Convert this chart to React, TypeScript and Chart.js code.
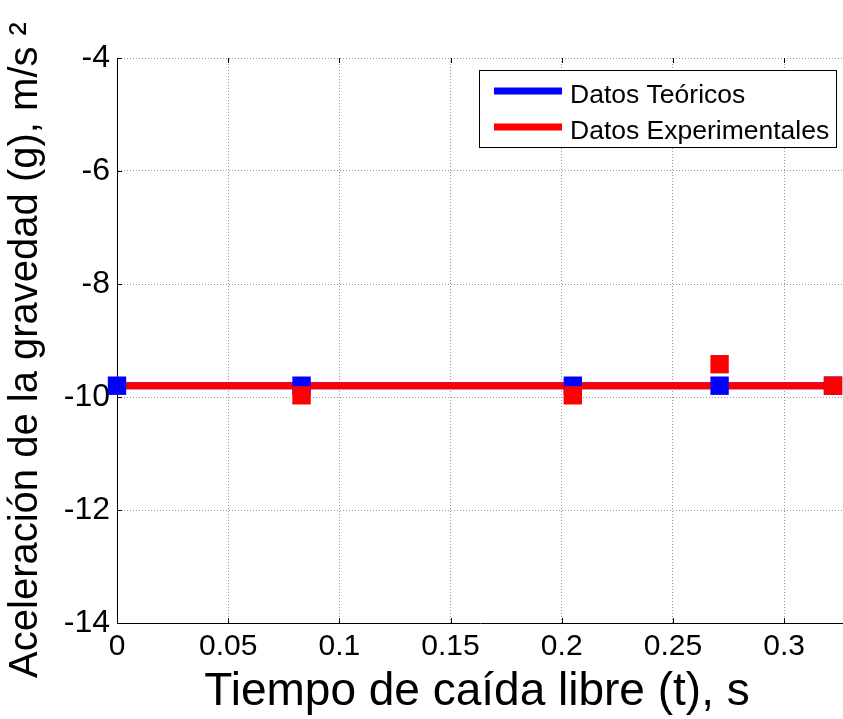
import { useEffect, useRef } from 'react';
import { Chart, registerables } from 'chart.js';

Chart.register(...registerables);

// Tiempos de caída (s) y aceleración (m/s²)
const tiempos = [0, 0.083, 0.205, 0.271, 0.322];
const gTeorico = [-9.8, -9.8, -9.8, -9.8, -9.8];
const gPromedioExp = [-9.8, -9.8, -9.8, -9.8, -9.8];
const tiemposExp = [0.083, 0.205, 0.271, 0.322];
const gExperimental = [-9.97, -9.97, -9.42, -9.8];

const xTicks = [0, 0.05, 0.1, 0.15, 0.2, 0.25, 0.3];
const yTicks = [-14, -12, -10, -8, -6, -4];
const leyenda = ['Datos Teóricos', 'Datos Experimentales'];

const AZUL = '#0000ff';
const ROJO = '#ff0000';
const FUENTE = '"Liberation Sans", Arial, Helvetica, sans-serif';

const decoracion = {
  id: 'decoracion',
  afterDraw(chart: any) {
    const { ctx, chartArea } = chart;
    const xs = chart.scales.x;
    const ys = chart.scales.y;
    ctx.save();

    // marcas de graduación hacia adentro
    ctx.strokeStyle = '#000';
    ctx.lineWidth = 1;
    ctx.beginPath();
    xTicks.forEach((v) => {
      const px = Math.round(xs.getPixelForValue(v)) + 0.5;
      ctx.moveTo(px, chartArea.bottom);
      ctx.lineTo(px, chartArea.bottom - 5);
      ctx.moveTo(px, chartArea.top);
      ctx.lineTo(px, chartArea.top + 5);
    });
    yTicks.forEach((v) => {
      const py = Math.round(ys.getPixelForValue(v)) + 0.5;
      ctx.moveTo(chartArea.left, py);
      ctx.lineTo(chartArea.left + 5, py);
    });
    ctx.stroke();

    // leyenda
    const lx = 479.5, ly = 70.5, lw = 357, lh = 77;
    ctx.fillStyle = '#fff';
    ctx.fillRect(lx, ly, lw, lh);
    ctx.strokeStyle = '#000';
    ctx.lineWidth = 1;
    ctx.strokeRect(lx, ly, lw, lh);
    const colores = [AZUL, ROJO];
    const filas = [91, 127];
    ctx.font = `26.5px ${FUENTE}`;
    ctx.textAlign = 'left';
    ctx.textBaseline = 'alphabetic';
    leyenda.forEach((txt, i) => {
      ctx.strokeStyle = colores[i];
      ctx.lineWidth = 7;
      ctx.beginPath();
      ctx.moveTo(494, filas[i]);
      ctx.lineTo(562, filas[i]);
      ctx.stroke();
      ctx.fillStyle = '#000';
      ctx.fillText(txt, 570, filas[i] + 12);
    });

    // títulos de los ejes
    ctx.fillStyle = '#000';
    ctx.font = `46px ${FUENTE}`;
    ctx.textAlign = 'center';
    ctx.textBaseline = 'alphabetic';
    ctx.fillText('Tiempo de caída libre (t), s', 477, 705);

    ctx.translate(37, 350);
    ctx.rotate(-Math.PI / 2);
    ctx.font = `40px ${FUENTE}`;
    ctx.fillText('Aceleración de la gravedad (g), m/s ²', 0, 0);
    ctx.restore();
  },
};

export default function App() {
  const ref = useRef<HTMLCanvasElement | null>(null);

  useEffect(() => {
    document.body.style.margin = '0';
    document.body.style.overflow = 'hidden';
    const canvas = ref.current;
    if (!canvas) return;

    const teo = tiempos.map((t, i) => ({ x: t, y: gTeorico[i] }));
    const prom = tiempos.map((t, i) => ({ x: t, y: gPromedioExp[i] }));
    const exp = tiemposExp.map((t, i) => ({ x: t, y: gExperimental[i] }));

    const chart = new Chart(canvas, {
      type: 'line',
      data: {
        datasets: [
          {
            label: leyenda[0],
            data: teo,
            borderColor: AZUL,
            borderWidth: 7,
            pointRadius: 0,
            order: 4,
            clip: false,
          },
          {
            label: leyenda[1],
            data: prom,
            borderColor: ROJO,
            borderWidth: 7,
            pointRadius: 0,
            order: 3,
            clip: false,
          },
          {
            label: leyenda[0] + ' (puntos)',
            data: teo,
            showLine: false,
            pointStyle: 'rect',
            pointRadius: 13,
            pointBackgroundColor: AZUL,
            pointBorderColor: AZUL,
            pointBorderWidth: 0,
            order: 2,
            clip: false,
          },
          {
            label: leyenda[1] + ' (puntos)',
            data: exp,
            showLine: false,
            pointStyle: 'rect',
            pointRadius: 13,
            pointBackgroundColor: ROJO,
            pointBorderColor: ROJO,
            pointBorderWidth: 0,
            order: 1,
            clip: false,
          },
        ],
      },
      options: {
        responsive: false,
        animation: false,
        events: [],
        layout: { autoPadding: false, padding: { top: 58, right: 0, left: 0, bottom: 0 } },
        plugins: {
          legend: { display: false },
          tooltip: { enabled: false },
          title: { display: false },
        },
        scales: {
          x: {
            type: 'linear',
            min: 0,
            max: 0.3265,
            afterBuildTicks: (s: any) => {
              s.ticks = xTicks.map((v) => ({ value: v }));
            },
            afterFit: (s: any) => {
              s.height = 96;
              s.paddingLeft = 0;
              s.paddingRight = 0;
            },
            ticks: {
              color: '#000',
              padding: 6,
              maxRotation: 0,
              font: { family: FUENTE, size: 30 },
              callback: (v: any) => String(Number(Number(v).toFixed(3))),
            },
            grid: {
              color: 'rgba(0,0,0,0.4)',
              lineWidth: 1,
              drawTicks: false,
            },
            border: { display: true, color: '#000', width: 1, dash: [1, 2] },
          },
          y: {
            type: 'linear',
            min: -14,
            max: -4,
            afterBuildTicks: (s: any) => {
              s.ticks = yTicks.map((v) => ({ value: v }));
            },
            afterFit: (s: any) => {
              s.width = 117;
              s.paddingTop = 0;
              s.paddingBottom = 0;
            },
            ticks: {
              color: '#000',
              padding: 7,
              font: { family: FUENTE, size: 32 },
              callback: (v: any) => String(v),
            },
            grid: {
              color: 'rgba(0,0,0,0.4)',
              lineWidth: 1,
              drawTicks: false,
            },
            border: { display: true, color: '#000', width: 1, dash: [1, 2] },
          },
        },
      },
      plugins: [decoracion],
    });

    return () => chart.destroy();
  }, []);

  return (
    <div style={{ width: 843, height: 719, background: '#fff' }}>
      <canvas ref={ref} width={843} height={719} style={{ display: 'block' }} />
    </div>
  );
}
